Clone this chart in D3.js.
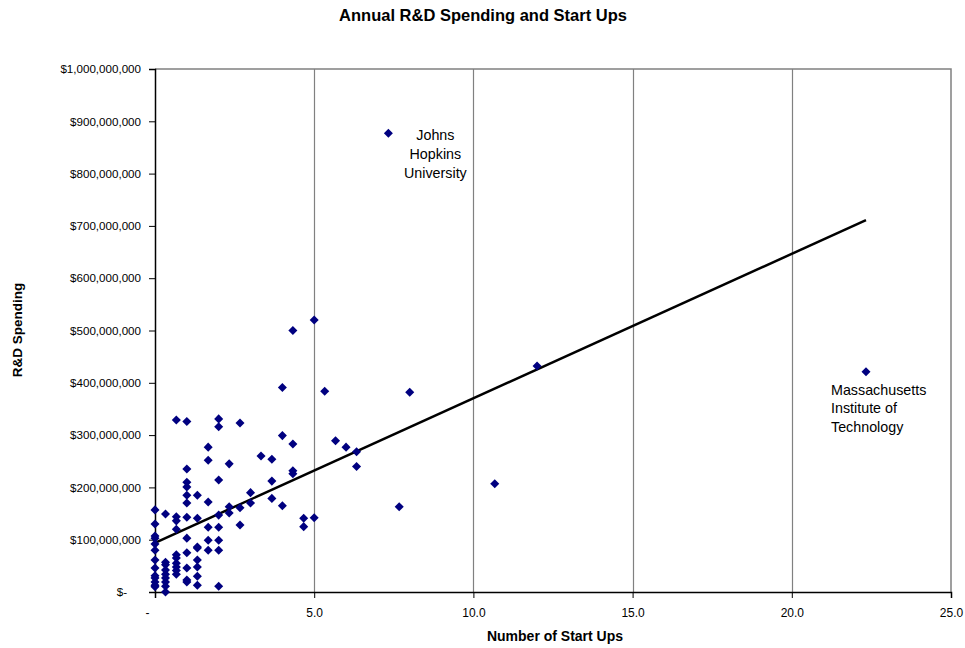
<!DOCTYPE html>
<html lang="en">
<head>
    <meta charset="UTF-8">
    <title>Annual R&amp;D Spending and Start Ups</title>
    <script src="https://d3js.org/d3.v7.min.js"></script>
    <style>
        body { margin: 0; background: #fff; font-family: "Liberation Sans", Arial, sans-serif; }
        svg text { font-family: "Liberation Sans", Arial, sans-serif; }
    </style>
</head>
<body>
    <svg id="chart" width="965" height="648"></svg>
    <script>
        // Start ups per year (x) and R&D spending in millions of dollars (y)
        const startUps = [
            0, 0, 0, 0, 0, 0, 0, 0, 0, 0, 0, 0, 0,
            0.33, 0.33, 0.33, 0.33, 0.33, 0.33, 0.33, 0.33, 0.33,
            0.67, 0.67, 0.67, 0.67, 0.67, 0.67, 0.67, 0.67, 0.67, 0.67,
            1, 1, 1, 1, 1, 1, 1, 1, 1, 1, 1, 1,
            1.33, 1.33, 1.33, 1.33, 1.33, 1.33, 1.33, 1.33,
            1.67, 1.67, 1.67, 1.67, 1.67, 1.67,
            2, 2, 2, 2, 2, 2, 2, 2,
            2.33, 2.33, 2.33,
            2.67, 2.67, 2.67,
            3, 3,
            3.33,
            3.67, 3.67, 3.67,
            4, 4, 4,
            4.33, 4.33, 4.33, 4.33,
            4.67, 4.67,
            5, 5,
            5.33, 5.67, 6, 6.33, 6.33,
            7.33, 7.67, 8, 10.67, 12, 22.33
        ];
        const spendingM = [
            157, 130, 107, 103, 92, 80, 61, 46, 31, 27, 19, 13, 10,
            149, 57, 52, 42, 34, 27, 19, 11, 0,
            329, 144, 136, 120, 71, 65, 55, 48, 41, 34,
            326, 235, 210, 201, 185, 170, 143, 103, 75, 46, 23, 19,
            185, 141, 86, 84, 61, 48, 30, 13,
            277, 252, 172, 124, 99, 80,
            331, 316, 214, 147, 124, 99, 80, 11,
            245, 163, 151,
            323, 161, 128,
            190, 170,
            260,
            254, 212, 179,
            391, 299, 165,
            500, 283, 232, 226,
            141, 125,
            520, 142,
            384, 289, 277, 268, 240,
            877, 163, 382, 207, 432, 421
        ];

        // Linear trendline end points (start ups, millions)
        const trendX = [0, 22.33];
        const trendY = [94, 711];

        const xTicks = [0, 5, 10, 15, 20, 25];
        const yTicks = [0, 100, 200, 300, 400, 500, 600, 700, 800, 900, 1000];

        const labels = [
            { name: "Johns Hopkins University", x: 7.33, y: 877 },
            { name: "Massachusetts Institute of Technology", x: 22.33, y: 421 }
        ];

        const margin = { left: 155, right: 14, top: 69, bottom: 56 };
        const width = 965, height = 648;
        const svg = d3.select("#chart");

        const x = d3.scaleLinear().domain([0, 25]).range([margin.left, width - margin.right]);
        const y = d3.scaleLinear().domain([0, 1000]).range([height - margin.bottom, margin.top]);

        // Plot frame (top and right edges) and vertical gridlines
        svg.append("path")
            .attr("d", `M${x(0)},${y(1000)} H${x(25)} V${y(0)}`)
            .attr("fill", "none")
            .attr("stroke", "#808080")
            .attr("stroke-width", 1.5);

        svg.selectAll(".grid")
            .data(xTicks.filter(d => d > 0 && d < 25))
            .enter()
            .append("line")
            .attr("x1", d => Math.round(x(d)) + 0.5)
            .attr("x2", d => Math.round(x(d)) + 0.5)
            .attr("y1", y(1000))
            .attr("y2", y(0))
            .attr("stroke", "#808080")
            .attr("stroke-width", 1.2);

        // Axes
        const money = d => d === 0 ? "$-" : "$" + d3.format(",")(d * 1e6);
        const yAxis = svg.append("g")
            .attr("transform", `translate(${x(0)},0)`)
            .call(d3.axisLeft(y).tickValues(yTicks).tickFormat(money).tickSize(6).tickPadding(8));
        const xAxis = svg.append("g")
            .attr("transform", `translate(0,${y(0)})`)
            .call(d3.axisBottom(x).tickValues(xTicks)
                .tickFormat(d => d === 0 ? "-" : d3.format(".1f")(d))
                .tickSize(6).tickPadding(10));

        [xAxis, yAxis].forEach(g => {
            g.select(".domain").attr("stroke", "#000").attr("stroke-width", 1.5);
            g.selectAll(".tick line").attr("stroke", "#000");
            g.selectAll(".tick text").attr("font-size", 12).attr("fill", "#000");
        });
        yAxis.selectAll(".tick text").attr("font-size", 11.6);
        yAxis.selectAll(".tick text").filter(d => d === 0).attr("dx", -14);
        xAxis.selectAll(".tick text").filter(d => d === 0).attr("dx", -8);

        // Trendline
        svg.append("line")
            .attr("x1", x(trendX[0]))
            .attr("y1", y(trendY[0]))
            .attr("x2", x(trendX[1]))
            .attr("y2", y(trendY[1]))
            .attr("stroke", "#000")
            .attr("stroke-width", 2.5);

        // Points (diamond markers)
        const diamond = d3.symbol().type(d3.symbolDiamond2).size(52);
        svg.selectAll(".pt")
            .data(startUps.map((s, i) => ({ s, v: spendingM[i] })))
            .enter()
            .append("path")
            .attr("d", diamond)
            .attr("transform", d => `translate(${x(d.s)},${y(d.v)})`)
            .attr("fill", "#000080");

        // Point labels
        const jhu = svg.append("text")
            .attr("text-anchor", "middle")
            .attr("font-size", 14.3)
            .attr("fill", "#000");
        ["Johns", "Hopkins", "University"].forEach((t, i) => {
            jhu.append("tspan")
                .attr("x", x(labels[0].x) + 47)
                .attr("y", y(labels[0].y) + 7 + i * 19)
                .text(t);
        });
        const mit = svg.append("text")
            .attr("text-anchor", "start")
            .attr("font-size", 14.3)
            .attr("fill", "#000");
        ["Massachusetts", "Institute of", "Technology"].forEach((t, i) => {
            mit.append("tspan")
                .attr("x", x(labels[1].x) - 35)
                .attr("y", y(labels[1].y) + 23 + i * 18.5)
                .text(t);
        });

        // Titles
        svg.append("text")
            .attr("x", 483).attr("y", 21)
            .attr("text-anchor", "middle")
            .attr("font-size", 16.5).attr("font-weight", "bold")
            .text("Annual R&D Spending and Start Ups");
        svg.append("text")
            .attr("x", 555).attr("y", 641)
            .attr("text-anchor", "middle")
            .attr("font-size", 14).attr("font-weight", "bold")
            .text("Number of Start Ups");
        svg.append("text")
            .attr("transform", `translate(22,330) rotate(-90)`)
            .attr("text-anchor", "middle")
            .attr("font-size", 13.5).attr("font-weight", "bold")
            .text("R&D Spending");
    </script>
</body>
</html>
